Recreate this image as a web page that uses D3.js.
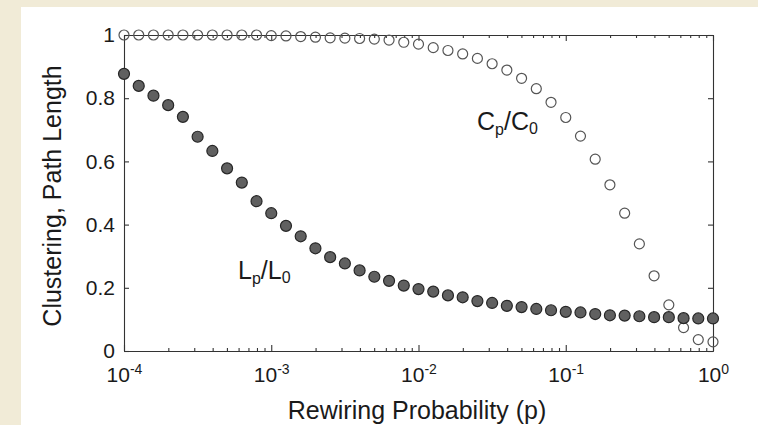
<!DOCTYPE html>
<meta charset="utf-8">
<html>
<head>
  <title>Clustering and Path Length vs Rewiring Probability</title>
  <style>
    body { margin: 0; background: #f1ebd7; }
    svg { display: block; }
    .axis path, .axis line { stroke: #333; stroke-width: 1.1; }
    .axis text { font-family: "Liberation Sans", Arial, sans-serif; font-size: 21px; fill: #1a1a1a; }
    .label { font-family: "Liberation Sans", Arial, sans-serif; fill: #1a1a1a; }
  </style>
</head>
<body>
<svg id="chart" width="758" height="425"></svg>

<script src="https://d3js.org/d3.v7.min.js"></script>
<script>

// rewiring probabilities (10 per decade, 1e-4 .. 1)
const pValues = [
  0.0001, 0.0001259, 0.0001585, 0.0001995, 0.0002512, 0.0003162, 0.0003981, 0.0005012, 0.000631, 0.0007943,
  0.001, 0.001259, 0.001585, 0.001995, 0.002512, 0.003162, 0.003981, 0.005012, 0.00631, 0.007943,
  0.01, 0.01259, 0.01585, 0.01995, 0.02512, 0.03162, 0.03981, 0.05012, 0.0631, 0.07943,
  0.1, 0.1259, 0.1585, 0.1995, 0.2512, 0.3162, 0.3981, 0.5012, 0.631, 0.7943,
  1
];

// C(p)/C(0) - open circles
const clustering = [
  1.0, 1.0, 1.0, 1.0, 1.0, 1.0, 1.0, 1.0, 1.0, 1.0,
  0.998, 0.997, 0.995, 0.993, 0.991, 0.990, 0.989, 0.987, 0.984, 0.977,
  0.971, 0.960, 0.951, 0.940, 0.926, 0.909, 0.889, 0.863, 0.830, 0.787,
  0.739, 0.680, 0.607, 0.526, 0.436, 0.339, 0.238, 0.146, 0.074, 0.036,
  0.029
];

// L(p)/L(0) - filled circles
const pathLength = [
  0.877, 0.839, 0.808, 0.778, 0.741, 0.678, 0.633, 0.578, 0.533, 0.474,
  0.436, 0.396, 0.363, 0.325, 0.297, 0.277, 0.255, 0.235, 0.222, 0.207,
  0.196, 0.188, 0.176, 0.170, 0.158, 0.152, 0.143, 0.139, 0.133, 0.129,
  0.124, 0.122, 0.117, 0.113, 0.112, 0.110, 0.107, 0.107, 0.104, 0.103,
  0.103
];

const xDecades = [0.0001, 0.001, 0.01, 0.1, 1];
const xExponents = ["-4", "-3", "-2", "-1", "0"];
const yTicks = [0, 0.2, 0.4, 0.6, 0.8, 1];
const yTickLabels = ["0", "0.2", "0.4", "0.6", "0.8", "1"];

const svg = d3.select("#chart");

// white page area over the beige border
svg.append("rect")
  .attr("x", 21).attr("y", 7)
  .attr("width", 737).attr("height", 418)
  .attr("fill", "#fff");

const plotLeft = 124, plotRight = 713, plotTop = 35, plotBottom = 351;

const x = d3.scaleLog().domain([1e-4, 1]).range([plotLeft, plotRight]);
const y = d3.scaleLinear().domain([0, 1]).range([plotBottom, plotTop]);

// minor log ticks (2..9 in each decade)
const minorTicks = [];
xDecades.slice(0, -1).forEach(d => {
  for (let k = 2; k <= 9; k++) minorTicks.push(d * k);
});

// --- bottom axis ---
svg.append("g")
  .attr("class", "axis")
  .attr("transform", `translate(0,${plotBottom})`)
  .call(d3.axisBottom(x).tickValues(minorTicks).tickSize(-3).tickSizeOuter(0).tickFormat(""));

const xAxis = svg.append("g")
  .attr("class", "axis")
  .attr("transform", `translate(0,${plotBottom})`)
  .call(d3.axisBottom(x).tickValues(xDecades).tickSize(-6).tickSizeOuter(0).tickFormat(""));

xAxis.selectAll(".tick text").remove();
xAxis.selectAll(".tick").append("text")
  .attr("y", 31)
  .attr("text-anchor", "middle")
  .attr("fill", "#1a1a1a")
  .each(function(d, i) {
    const t = d3.select(this);
    t.append("tspan").text("10");
    t.append("tspan").attr("dy", -8).attr("font-size", 14).text(xExponents[i]);
  });

// --- top axis (ticks only) ---
svg.append("g")
  .attr("class", "axis")
  .attr("transform", `translate(0,${plotTop})`)
  .call(d3.axisTop(x).tickValues(minorTicks).tickSize(-3).tickSizeOuter(0).tickFormat(""));
svg.append("g")
  .attr("class", "axis")
  .attr("transform", `translate(0,${plotTop})`)
  .call(d3.axisTop(x).tickValues(xDecades).tickSize(-6).tickSizeOuter(0).tickFormat(""));

// --- left axis ---
svg.append("g")
  .attr("class", "axis")
  .attr("transform", `translate(${plotLeft},0)`)
  .call(d3.axisLeft(y).tickValues(yTicks).tickSize(-5).tickSizeOuter(0).tickPadding(9)
    .tickFormat((d, i) => yTickLabels[i]));

// --- right axis (ticks only) ---
svg.append("g")
  .attr("class", "axis")
  .attr("transform", `translate(${plotRight},0)`)
  .call(d3.axisRight(y).tickValues(yTicks).tickSize(-5).tickSizeOuter(0).tickFormat(""));

// --- data ---
const rows = pValues.map((p, i) => ({ p: p, c: clustering[i], l: pathLength[i] }));

svg.append("g")
  .selectAll("circle")
  .data(rows)
  .join("circle")
  .attr("cx", d => x(d.p))
  .attr("cy", d => y(d.c))
  .attr("r", 5)
  .attr("fill", "none")
  .attr("stroke", "#555")
  .attr("stroke-width", 1.2);

svg.append("g")
  .selectAll("circle")
  .data(rows)
  .join("circle")
  .attr("cx", d => x(d.p))
  .attr("cy", d => y(d.l))
  .attr("r", 5.5)
  .attr("fill", "#606060")
  .attr("stroke", "#262626")
  .attr("stroke-width", 1.2);

// --- series labels ---
function subLabel(xPos, yPos, a) {
  const t = svg.append("text")
    .attr("class", "label")
    .attr("x", xPos).attr("y", yPos)
    .attr("font-size", 25);
  t.append("tspan").text(a);
  t.append("tspan").attr("dy", 5).attr("font-size", 16).text("p");
  t.append("tspan").attr("dy", -5).text("/" + a);
  t.append("tspan").attr("dy", 4).attr("font-size", 16).text("0");
}
subLabel(477, 130, "C");
subLabel(238, 279, "L");

// --- axis titles ---
svg.append("text")
  .attr("class", "label")
  .attr("x", 417).attr("y", 419)
  .attr("text-anchor", "middle")
  .attr("font-size", 25)
  .text("Rewiring Probability (p)");

svg.append("text")
  .attr("class", "label")
  .attr("transform", "translate(61,196) rotate(-90)")
  .attr("text-anchor", "middle")
  .attr("font-size", 25)
  .text("Clustering, Path Length");

</script>
</body>
</html>
